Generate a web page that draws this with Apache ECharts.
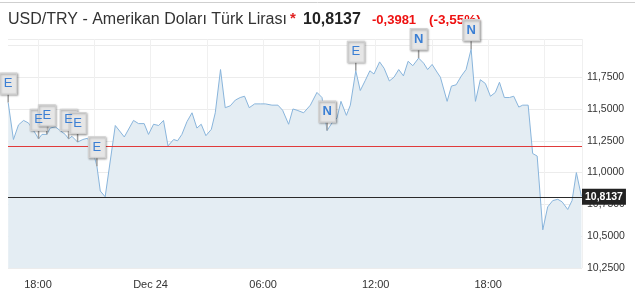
<!DOCTYPE html>
<html><head><meta charset="utf-8">
<script src="https://cdn.jsdelivr.net/npm/echarts@6/dist/echarts.min.js"></script>
<style>html,body{margin:0;padding:0;background:#fff}#c{width:635px;height:308px}</style>
</head><body><div id="c"></div>
<script>
// hours since Dec 23 00:00
const timeHours = [16.41,16.69,16.96,17.23,17.49,17.67,17.85,18.03,18.21,18.47,18.65,18.92,19.18,19.45,19.63,19.81,20.11,20.39,20.64,20.87,
 21.14,21.32,21.58,22.12,22.60,23.09,23.36,23.66,23.89,24.16,24.43,24.69,24.93,25.23,25.44,25.67,25.94,26.21,26.47,26.70,
 26.95,27.24,27.45,27.73,27.98,28.25,28.52,28.78,29.01,29.26,29.55,29.85,30.12,30.47,30.79,31.04,31.36,31.59,31.81,32.16,
 32.52,32.87,33.14,33.41,33.67,33.94,34.15,34.44,34.65,34.94,35.18,35.45,35.69,35.91,36.21,36.45,36.73,36.98,37.23,37.48,
 37.73,37.98,38.29,38.56,38.77,39.01,39.27,39.45,39.81,40.04,40.29,40.57,40.82,41.09,41.32,41.58,41.85,42.12,42.38,42.60,
 42.86,43.13,43.36,43.63,43.84,44.13,44.37,44.61,44.91,45.17,45.44,45.71,45.94,46.24,46.47,46.70,46.97];
const rates = [11.55,11.26,11.375,11.41,11.39,11.35,11.31,11.265,11.30,11.30,11.35,11.36,11.33,11.30,11.265,11.285,11.24,11.26,11.27,11.20,
 11.05,10.855,10.81,11.37,11.28,11.41,11.385,11.385,11.30,11.38,11.37,11.41,11.21,11.26,11.25,11.30,11.40,11.47,11.35,11.38,
 11.29,11.34,11.47,11.81,11.51,11.525,11.57,11.59,11.60,11.51,11.54,11.54,11.54,11.53,11.53,11.49,11.38,11.50,11.49,11.47,
 11.53,11.63,11.59,11.33,11.39,11.43,11.56,11.45,11.53,11.80,11.645,11.725,11.80,11.775,11.87,11.82,11.72,11.75,11.81,11.76,
 11.875,11.84,11.90,11.86,11.81,11.85,11.79,11.75,11.56,11.68,11.69,11.76,11.81,11.97,11.56,11.73,11.70,11.60,11.63,11.71,
 11.59,11.59,11.60,11.515,11.53,11.53,11.15,11.13,10.55,10.73,10.78,10.79,10.77,10.71,10.78,11.00,10.8137];
const prevClose = 11.2118;
const lastRate = 10.8137;
const titleText = 'USD/TRY - Amerikan Doları Türk Lirası';
const lastText = '10,8137';
const changeText = '-0,3981';
const pctText = '(-3,55%)';
const xLabelHours = [18,24,30,36,42];
const xLabelTexts = ['18:00','Dec 24','06:00','12:00','18:00'];
const xGridHours = [18,21,24,27,30,33,36,39,42,45,47];
const yLabelValues = [10.25,10.5,10.75,11.0,11.25,11.5,11.75];
const flagIndex = [0,7,9,14,16,20,63,69,82,93];
const flagLetter = ['E','E','E','E','E','E','N','E','N','N'];

const FONT = '"Liberation Sans", Arial, sans-serif';
const fmt = v => v.toFixed(4).replace('.', ',');
const lineData = timeHours.map((h,i)=>[h, rates[i]]);

const stems = flagIndex.map(i => ({coord:[timeHours[i], rates[i]], symbol:'rect', symbolSize:[1.5,9], symbolOffset:[0,-4.5],
  itemStyle:{color:'#9d9d9d'}, label:{show:false}}));
const boxes = flagIndex.map((i,k) => ({coord:[timeHours[i], rates[i]], symbol:'rect', symbolSize:[17,21], symbolOffset:[0,-19],
  itemStyle:{color:'#e6e6e6', borderColor:'#d2d2d2', borderWidth:1, shadowColor:'rgba(0,0,0,0.3)', shadowBlur:2, shadowOffsetX:1, shadowOffsetY:1},
  label:{show:true, position:'inside', formatter: flagLetter[k], color:'#3b7fd4', fontSize:13, fontFamily:FONT, fontWeight: flagLetter[k]==='N'?'bold':'normal'}}));

const chart = echarts.init(document.getElementById('c'), null, {renderer:'canvas'});
chart.setOption({
  animation:false,
  backgroundColor:'#fff',
  textStyle:{fontFamily:FONT},
  grid:{left:8, right:53, top:39, bottom:40},
  xAxis:{type:'value', min:16.4, max:47.0,
    axisLine:{show:false},
    axisTick:{show:false, customValues:xGridHours},
    axisLabel:{customValues:xLabelHours, formatter:v=>{const k=xLabelHours.indexOf(v);return k>=0?xLabelTexts[k]:'';}, color:'#333', fontSize:11, margin:11, fontFamily:FONT},
    splitLine:{show:true, lineStyle:{color:'#f0f0f0', width:1}}
  },
  yAxis:{type:'value', position:'right', min:10.25, max:12.05, interval:0.25,
    axisLine:{show:false}, axisTick:{show:false},
    axisLabel:{showMaxLabel:false, color:'#333', fontSize:10.5, margin:5, fontFamily:FONT,
      formatter:v=>yLabelValues.some(t=>Math.abs(t-v)<1e-6)?fmt(v):''},
    splitLine:{show:true, lineStyle:{color:'#ececec', width:1}}
  },
  graphic:[
    {type:'line', shape:{x1:0,y1:2.5,x2:635,y2:2.5}, style:{stroke:'#cfcfcf', lineWidth:1}},
    {type:'text', x:8, y:20, style:{text:titleText, font:'16px '+FONT, fill:'#333', textVerticalAlign:'middle'}},
    {type:'text', x:290, y:19, style:{text:'*', font:'bold 15px '+FONT, fill:'#e02020', textVerticalAlign:'middle'}},
    {type:'text', x:303, y:20, style:{text:lastText, font:'bold 16px '+FONT, fill:'#222', textVerticalAlign:'middle'}},
    {type:'text', x:372, y:20, style:{text:changeText, font:'bold 13px '+FONT, fill:'#ee1111', textVerticalAlign:'middle'}},
    {type:'text', x:429, y:20, style:{text:pctText, font:'bold 13.5px '+FONT, fill:'#ee1111', textVerticalAlign:'middle'}}
  ],
  series:[
    {type:'line', data:lineData, showSymbol:false, symbol:'none', z:2,
      lineStyle:{color:'#89b5dc', width:1},
      areaStyle:{color:'#e4edf3', opacity:1, origin:'start'},
      markLine:{symbol:'none', silent:true, animation:false, data:[
        {yAxis:prevClose, lineStyle:{color:'#e03a3a', width:1, type:'solid'}, label:{show:false}},
        {yAxis:lastRate, lineStyle:{color:'#2a2a2a', width:1, type:'solid'},
          label:{show:true, position:'end', distance:0, formatter:()=>fmt(lastRate), backgroundColor:'#222', color:'#fff',
            fontSize:10.5, fontWeight:'bold', fontFamily:FONT, padding:[3,3,2,3]}}
      ]}
    },
    {type:'line', data:lineData, showSymbol:false, symbol:'none', z:5, silent:true,
      lineStyle:{width:0, opacity:0},
      markPoint:{silent:true, animation:false, data: stems.concat(boxes)}
    }
  ]
});
</script></body></html>
